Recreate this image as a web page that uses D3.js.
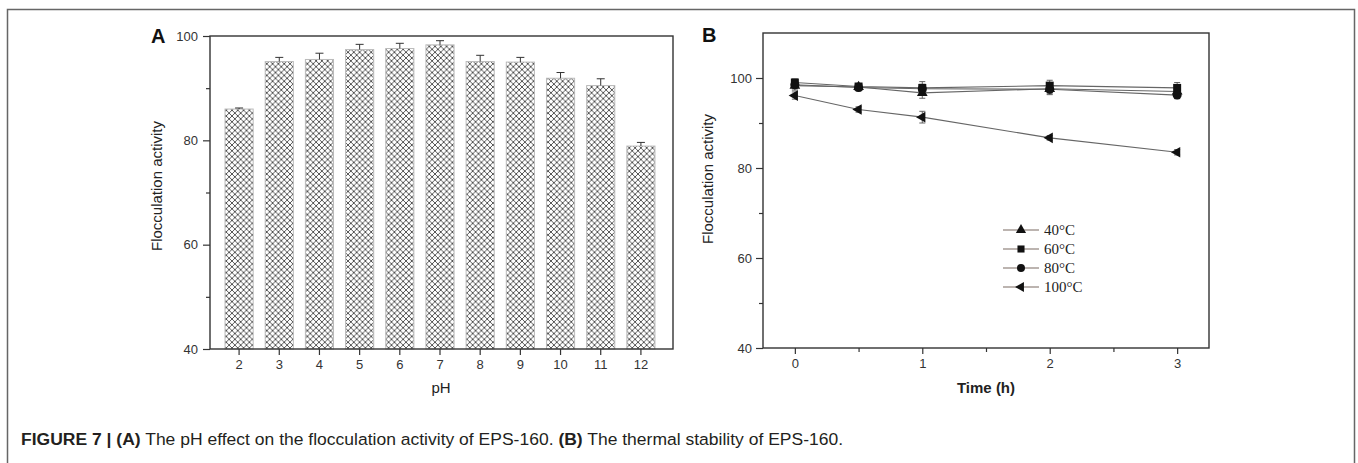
<!DOCTYPE html>
<html>
<head>
<meta charset="utf-8">
<script src="https://cdn.jsdelivr.net/npm/d3@7"></script>
<style>
  body { margin: 0; background: #fff; }
  svg { display: block; }
  .tick text { font-family: Arial, "Liberation Sans", sans-serif; font-size: 13px; fill: #333; }
  .axis-label { font-family: Arial, "Liberation Sans", sans-serif; font-size: 15px; fill: #222; }
  .legend-text { font-family: "Liberation Serif", "Times New Roman", serif; font-size: 15px; fill: #222; }
</style>
</head>
<body>
<svg width="1358" height="463"></svg>
<script>
// panel A: pH effect
const phCats = ['2', '3', '4', '5', '6', '7', '8', '9', '10', '11', '12'];
const phValues = [86.0, 95.1, 95.5, 97.4, 97.6, 98.3, 95.1, 95.0, 91.9, 90.5, 78.9];
const phErrors = [0.2, 0.8, 1.2, 1.0, 1.0, 0.8, 1.2, 0.9, 1.1, 1.3, 0.7];
const phYTicks = [40, 60, 80, 100];

// panel B: thermal stability
const timePoints = [0, 0.5, 1, 2, 3];
const tempLabels = ['40°C', '60°C', '80°C', '100°C'];
const t40 = [98.3, 98.0, 96.7, 97.6, 97.0];
const t60 = [99.0, 98.1, 97.8, 98.3, 97.8];
const t80 = [98.5, 97.9, 97.6, 97.5, 96.2];
const t100 = [96.1, 93.0, 91.3, 86.7, 83.5];
const t40Err = [1.0, 0.8, 1.2, 1.3, 1.0];
const t60Err = [0.8, 0.7, 1.4, 1.2, 1.2];
const t80Err = [0.9, 0.8, 1.0, 1.0, 0.8];
const t100Err = [0.8, 0.6, 1.3, 0.5, 0.6];
const timeTicks = [0, 1, 2, 3];
const tempYTicks = [40, 60, 80, 100];

const svg = d3.select('svg');

// outer figure frame
svg.append('path')
    .attr('d', 'M7.5,475 V9.5 H1354.5 V475')
    .attr('fill', 'none')
    .attr('stroke', '#666')
    .attr('stroke-width', 1.5);

// crosshatch pattern
const defs = svg.append('defs');
const pat = defs.append('pattern')
    .attr('id', 'hatch')
    .attr('patternUnits', 'userSpaceOnUse')
    .attr('width', 5.8)
    .attr('height', 5.8);
pat.append('rect').attr('width', 5.8).attr('height', 5.8).attr('fill', '#fff');
pat.append('path')
    .attr('d', 'M0,0 L5.8,5.8 M5.8,0 L0,5.8')
    .attr('stroke', '#444')
    .attr('stroke-width', 0.9);

// ---------- panel A ----------
const a = { left: 210, right: 673, top: 36, bottom: 349 };
const gA = svg.append('g');

const xA = d3.scaleBand()
    .domain(phCats)
    .range([a.left + 9, a.right - 12])
    .paddingInner(0.3)
    .paddingOuter(0.15);
const yA = d3.scaleLinear().domain([40, 100]).range([a.bottom, a.top]);

gA.selectAll('.bar')
    .data(phValues)
    .join('rect')
    .attr('class', 'bar')
    .attr('x', (d, i) => xA(phCats[i]))
    .attr('y', d => yA(d))
    .attr('width', xA.bandwidth())
    .attr('height', d => yA(40) - yA(d))
    .attr('fill', 'url(#hatch)')
    .attr('stroke', '#bbb')
    .attr('stroke-width', 1);

// error bars (upper only)
phValues.forEach((v, i) => {
    const cx = xA(phCats[i]) + xA.bandwidth() / 2;
    gA.append('line')
        .attr('x1', cx).attr('x2', cx)
        .attr('y1', yA(v)).attr('y2', yA(v + phErrors[i]))
        .attr('stroke', '#333').attr('stroke-width', 1);
    gA.append('line')
        .attr('x1', cx - 4).attr('x2', cx + 4)
        .attr('y1', yA(v + phErrors[i])).attr('y2', yA(v + phErrors[i]))
        .attr('stroke', '#333').attr('stroke-width', 1);
});

// frame
gA.append('rect')
    .attr('x', a.left).attr('y', a.top)
    .attr('width', a.right - a.left).attr('height', a.bottom - a.top)
    .attr('fill', 'none').attr('stroke', '#333').attr('stroke-width', 1.4);

gA.append('g')
    .attr('transform', `translate(${a.left},0)`)
    .call(d3.axisLeft(yA).tickValues(phYTicks).tickSize(7).tickPadding(5));
gA.append('g')
    .attr('transform', `translate(${a.left},0)`)
    .call(d3.axisLeft(yA).tickValues([50, 70, 90]).tickSize(4).tickFormat(''));
gA.append('g')
    .attr('transform', `translate(0,${a.bottom})`)
    .call(d3.axisBottom(xA).tickSize(6).tickPadding(5));
gA.selectAll('.domain').remove();
gA.selectAll('.tick line').attr('stroke', '#333').attr('stroke-width', 1.2);

gA.append('text').attr('class', 'axis-label')
    .attr('x', 441).attr('y', 393).attr('text-anchor', 'middle').text('pH');
gA.append('text').attr('class', 'axis-label')
    .attr('transform', 'translate(162,186) rotate(-90)')
    .attr('text-anchor', 'middle').text('Flocculation activity');
gA.append('text')
    .attr('x', 151).attr('y', 43)
    .attr('font-family', 'Arial, sans-serif').attr('font-weight', 'bold')
    .attr('font-size', 20).attr('fill', '#111').text('A');

// ---------- panel B ----------
const b = { left: 763, right: 1209, top: 33, bottom: 348 };
const gB = svg.append('g');
const xB = d3.scaleLinear().domain([-0.25, 3.25]).range([b.left, b.right]);
const yB = d3.scaleLinear().domain([40, 110]).range([b.bottom, b.top]);

gB.append('rect')
    .attr('x', b.left).attr('y', b.top)
    .attr('width', b.right - b.left).attr('height', b.bottom - b.top)
    .attr('fill', 'none').attr('stroke', '#333').attr('stroke-width', 1.4);

gB.append('g')
    .attr('transform', `translate(${b.left},0)`)
    .call(d3.axisLeft(yB).tickValues(tempYTicks).tickSize(7).tickPadding(4));
gB.append('g')
    .attr('transform', `translate(${b.left},0)`)
    .call(d3.axisLeft(yB).tickValues([50, 70, 90]).tickSize(4).tickFormat(''));
gB.append('g')
    .attr('transform', `translate(0,${b.bottom})`)
    .call(d3.axisBottom(xB).tickValues(timeTicks).tickSize(6).tickPadding(5).tickFormat(d3.format('d')));
gB.append('g')
    .attr('transform', `translate(0,${b.bottom})`)
    .call(d3.axisBottom(xB).tickValues([0.5, 1.5, 2.5]).tickSize(4).tickFormat(''));
gB.selectAll('.domain').remove();
gB.selectAll('.tick line').attr('stroke', '#333').attr('stroke-width', 1.2);

const series = [
    { name: tempLabels[0], values: t40, errs: t40Err, symbol: d3.symbolTriangle, rot: 0 },
    { name: tempLabels[1], values: t60, errs: t60Err, symbol: d3.symbolSquare, rot: 0 },
    { name: tempLabels[2], values: t80, errs: t80Err, symbol: d3.symbolCircle, rot: 0 },
    { name: tempLabels[3], values: t100, errs: t100Err, symbol: d3.symbolTriangle, rot: -90 }
];

const line = d3.line()
    .x((d, i) => xB(timePoints[i]))
    .y(d => yB(d));

series.forEach(s => {
    gB.append('path')
        .attr('d', line(s.values))
        .attr('fill', 'none')
        .attr('stroke', '#666')
        .attr('stroke-width', 1.1);
    s.values.forEach((v, i) => {
        const cx = xB(timePoints[i]);
        const y1 = yB(v - s.errs[i]), y2 = yB(v + s.errs[i]);
        gB.append('line').attr('x1', cx).attr('x2', cx).attr('y1', y1).attr('y2', y2)
            .attr('stroke', '#555').attr('stroke-width', 0.9);
        [y1, y2].forEach(yy => gB.append('line')
            .attr('x1', cx - 3).attr('x2', cx + 3).attr('y1', yy).attr('y2', yy)
            .attr('stroke', '#555').attr('stroke-width', 0.9));
    });
});
series.forEach(s => {
    gB.selectAll(null)
        .data(s.values)
        .join('path')
        .attr('transform', (d, i) => `translate(${xB(timePoints[i])},${yB(d)}) rotate(${s.rot})`)
        .attr('d', d3.symbol().type(s.symbol).size(s.symbol === d3.symbolTriangle ? 50 : 64))
        .attr('fill', '#111');
});

// legend
const legend = gB.append('g').attr('transform', 'translate(1003,230)');
series.forEach((s, i) => {
    const row = legend.append('g').attr('transform', `translate(0,${i * 19})`);
    row.append('line').attr('x1', 0).attr('x2', 36).attr('y1', 0).attr('y2', 0)
        .attr('stroke', '#7a6a62').attr('stroke-width', 1.2);
    row.append('path')
        .attr('transform', `translate(18,0) rotate(${s.rot})`)
        .attr('d', d3.symbol().type(s.symbol).size(s.symbol === d3.symbolTriangle ? 45 : 50))
        .attr('fill', '#111');
    row.append('text').attr('class', 'legend-text')
        .attr('x', 41).attr('y', 5).text(s.name);
});

gB.append('text').attr('class', 'axis-label')
    .attr('x', 986).attr('y', 393).attr('text-anchor', 'middle')
    .attr('font-weight', 'bold').attr('fill', '#333').text('Time (h)');
gB.append('text').attr('class', 'axis-label')
    .attr('transform', 'translate(713,179) rotate(-90)')
    .attr('text-anchor', 'middle').text('Flocculation activity');
gB.append('text')
    .attr('x', 702).attr('y', 42)
    .attr('font-family', 'Arial, sans-serif').attr('font-weight', 'bold')
    .attr('font-size', 20).attr('fill', '#111').text('B');

// caption
const cap = svg.append('text')
    .attr('transform', 'translate(21,445) scale(1.03,1)')
    .attr('font-family', 'Arial, "Liberation Sans", sans-serif')
    .attr('font-size', 17).attr('fill', '#231f20');
cap.append('tspan').attr('font-weight', 'bold').text('FIGURE 7 | (A)');
cap.append('tspan').text(' The pH effect on the flocculation activity of EPS-160. ');
cap.append('tspan').attr('font-weight', 'bold').text('(B)');
cap.append('tspan').text(' The thermal stability of EPS-160.');
</script>
</body>
</html>
